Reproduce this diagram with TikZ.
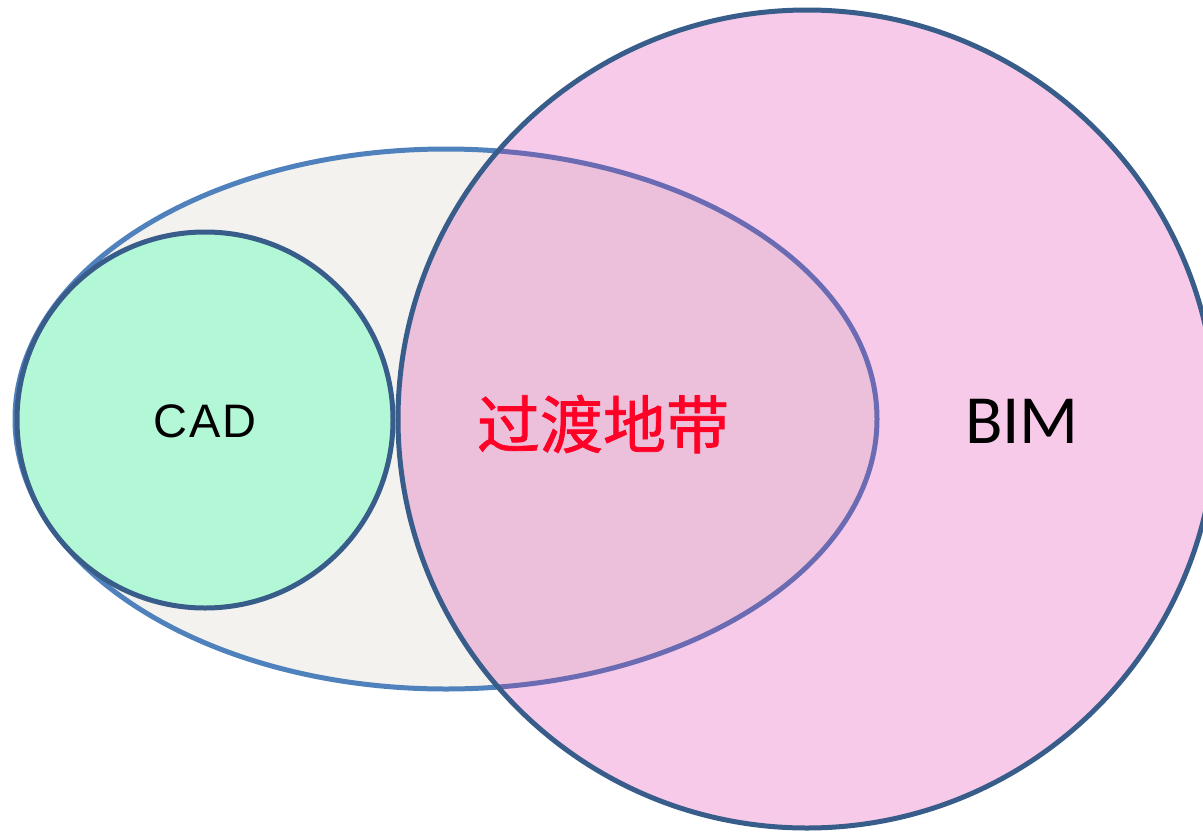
\documentclass[tikz,border=0pt]{standalone}
\usepackage{fontspec}
\newfontfamily\cjk[FakeBold=1.2]{Noto Sans CJK SC}
\newfontfamily\cadfont[LetterSpace=4]{Liberation Sans}
\newfontfamily\bimfont{Carlito}
\definecolor{ellfill}{HTML}{F3F2EE}
\definecolor{ellline}{HTML}{4F81BD}
\definecolor{ellin}{HTML}{6B6BB3}
\definecolor{darkline}{HTML}{385D8A}
\definecolor{cadfill}{HTML}{B3F8D6}
\definecolor{bimfill}{HTML}{F6CAE8}
\definecolor{overlap}{HTML}{ECC0DA}
\definecolor{zonered}{HTML}{FF0026}
\tikzset{
  border/.style={line width=5pt},
}
\begin{document}
\begin{tikzpicture}[x=1pt,y=-1pt]
\useasboundingbox (0,0) rectangle (1203,831);
\clip (0,0) rectangle (1203,831);
% ellipse
\fill[ellfill] (446,419) ellipse [x radius=431, y radius=270];
% BIM circle fill
\fill[bimfill] (807,419) circle [radius=409];
% overlap
\begin{scope}
  \clip (807,419) circle [radius=409];
  \fill[overlap] (446,419) ellipse [x radius=431, y radius=270];
\end{scope}
% ellipse border outside BIM
\begin{scope}[even odd rule]
  \clip (-10,-10) rectangle (1300,900) (807,419) circle [radius=409];
  \draw[border, ellline] (446,419) ellipse [x radius=431, y radius=270];
\end{scope}
% ellipse border inside BIM
\begin{scope}
  \clip (807,419) circle [radius=409];
  \draw[border, ellin] (446,419) ellipse [x radius=431, y radius=270];
\end{scope}
% BIM border
\draw[border, darkline] (807,419) circle [radius=409];
% CAD circle
\node[circle, draw=darkline, fill=cadfill, border, minimum size=376pt, inner sep=0pt] (cad) at (205,420) {};
\node (cadlabel) at (205,421) {\fontsize{47}{52}\selectfont\cadfont CAD};
\node[text=zonered] (zone) at (603,424) {\fontsize{63}{68}\selectfont\cjk 过渡地带};
\node (bim) at (1022,421) {\fontsize{69}{74}\selectfont\bimfont BIM};
\end{tikzpicture}
\end{document}
